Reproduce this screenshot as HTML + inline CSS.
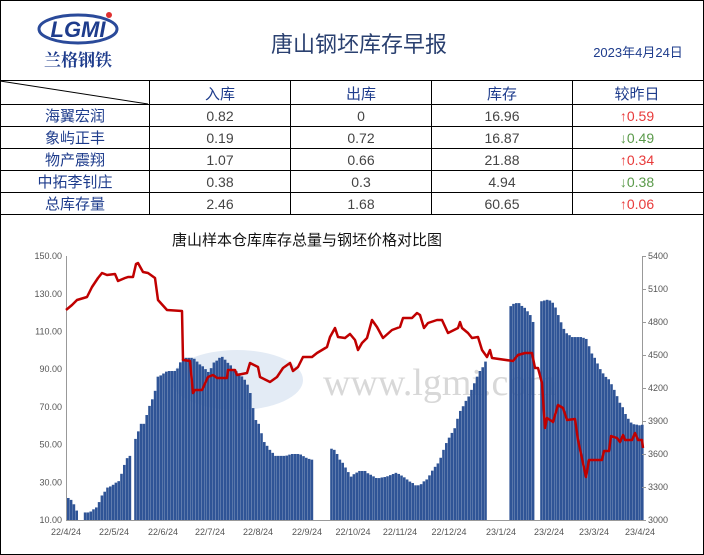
<!DOCTYPE html>
<html><head><meta charset="utf-8"><style>
body{margin:0;width:704px;height:555px;background:#fff;font-family:"Liberation Sans","Noto Sans CJK SC",sans-serif;overflow:hidden}
#w{position:absolute;left:0;top:0;width:702px;height:553px;border:1px solid #000}
</style></head><body>
<div id="w"></div>
<svg width="704" height="555" style="position:absolute;left:0;top:0" id="s">
<ellipse cx="78" cy="29" rx="39" ry="14" fill="none" stroke="#2a4a9a" stroke-width="3"/>
<text x="78" y="37" text-anchor="middle" font-family="Liberation Sans" font-weight="bold" font-style="italic" font-size="22" fill="#1e3c8c">LGMI</text>
<circle cx="109" cy="15" r="3" fill="#e03030"/>
<text x="78" y="66" text-anchor="middle" font-family="Noto Serif CJK SC,serif" font-weight="bold" font-size="17" fill="#1e3c8c">兰格钢铁</text>
<text x="359" y="52" text-anchor="middle" font-family="Noto Sans CJK SC,sans-serif" font-size="22" fill="#2a4070">唐山钢坯库存早报</text>
<text x="638" y="57" text-anchor="middle" font-family="Liberation Sans,Noto Sans CJK SC,sans-serif" font-size="13" fill="#1e3c8c">2023年4月24日</text>
<g stroke="#000" stroke-width="1">
<line x1="0" y1="80.5" x2="704" y2="80.5"/><line x1="0" y1="104.5" x2="704" y2="104.5"/>
<line x1="0" y1="126.5" x2="704" y2="126.5"/><line x1="0" y1="148.5" x2="704" y2="148.5"/>
<line x1="0" y1="170.5" x2="704" y2="170.5"/><line x1="0" y1="192.5" x2="704" y2="192.5"/>
<line x1="0" y1="214.5" x2="704" y2="214.5"/>
<line x1="149.5" y1="80" x2="149.5" y2="214"/><line x1="290.5" y1="80" x2="290.5" y2="214"/>
<line x1="431.5" y1="80" x2="431.5" y2="214"/><line x1="572.5" y1="80" x2="572.5" y2="214"/>
<line x1="0" y1="81" x2="148" y2="104"/>
</g>
<g font-family="Noto Sans CJK SC,sans-serif" font-size="15" text-anchor="middle" fill="#1e3c8c">
<text x="220" y="99">入库</text><text x="361" y="99">出库</text><text x="502" y="99">库存</text><text x="637" y="99">较昨日</text>
<text x="75" y="121">海翼宏润</text><text x="75" y="143">象屿正丰</text><text x="75" y="165">物产震翔</text><text x="75" y="187">中拓李钊庄</text><text x="75" y="209">总库存量</text>
</g>
<g font-family="Liberation Sans,sans-serif" font-size="14" text-anchor="middle" fill="#444">
<text x="220" y="121">0.82</text><text x="361" y="121">0</text><text x="502" y="121">16.96</text>
<text x="220" y="143">0.19</text><text x="361" y="143">0.72</text><text x="502" y="143">16.87</text>
<text x="220" y="165">1.07</text><text x="361" y="165">0.66</text><text x="502" y="165">21.88</text>
<text x="220" y="187">0.38</text><text x="361" y="187">0.3</text><text x="502" y="187">4.94</text>
<text x="220" y="209">2.46</text><text x="361" y="209">1.68</text><text x="502" y="209">60.65</text>
</g>
<g font-family="Liberation Sans,sans-serif" font-size="14" text-anchor="middle">
<text x="637" y="121" fill="#e83a3a">↑0.59</text><text x="637" y="143" fill="#5a9a4a">↓0.49</text>
<text x="637" y="165" fill="#e83a3a">↑0.34</text><text x="637" y="187" fill="#5a9a4a">↓0.38</text>
<text x="637" y="209" fill="#e83a3a">↑0.06</text>
</g>
<text x="307" y="245" text-anchor="middle" font-family="Noto Sans CJK SC,sans-serif" font-size="15" fill="#111">唐山样本仓库库存总量与钢坯价格对比图</text>
<ellipse cx="237" cy="380" rx="66" ry="30" fill="#dce6f2" opacity="0.8"/>
<text x="440" y="395" text-anchor="middle" font-family="Liberation Serif,serif" font-size="38" fill="#d8d8d8">www.lgmi.com</text>
<g stroke="#999" stroke-width="1"><line x1="66.5" y1="256" x2="66.5" y2="520"/><line x1="66" y1="520.5" x2="643" y2="520.5"/><line x1="642.5" y1="256" x2="642.5" y2="520"/></g>
<g id="bars" fill="#2f5496"></g>
<polyline id="ln" fill="none" stroke="#c00000" stroke-width="2.5" stroke-linejoin="round"/>
<g id="ax" font-family="Liberation Sans,sans-serif" font-size="9" fill="#555"></g>
</svg>
<script>
var ns="http://www.w3.org/2000/svg";
var K=[[66,22],[72,20],[75,15],[76,0],[82,0],[83,14],[88,14],[90,15],[96,17],[100,22],[105,27],[110,28],[113,29],[118,31],[122,38],[127,44],[129,44],[130,0],[133,0],[134,53],[140,61],[143,61],[146,68],[150,73],[153,76],[157,86],[163,88],[166,89],[175,89],[178,93],[183,96],[192,96],[198,93],[208,88],[212,93],[220,97],[226,94],[232,90],[240,87],[248,80],[251,72],[254,64],[258,60],[262,52],[268,48],[273,44],[284,44],[290,45],[298,45],[305,43],[310,42],[312,42],[313,0],[328,0],[329,48],[334,47],[339,42],[345,37],[350,33],[357,36],[364,36],[369,34],[376,32],[385,33],[395,35],[402,33],[410,30],[415,28],[420,29],[426,32],[432,37],[437,40],[441,46],[446,52],[452,57],[458,67],[464,72],[470,79],[476,86],[484,94],[485,0],[507,0],[508,123],[513,125],[518,125],[524,122],[530,118],[532,115],[533,0],[539,0],[540,126],[548,127],[553,124],[559,116],[565,109],[571,107],[580,107],[585,106],[592,97],[600,89],[608,84],[614,78],[620,71],[625,65],[631,61],[640,60],[642,61]];
function v(x){for(var i=0;i<K.length-1;i++){if(x>=K[i][0]&&x<=K[i+1][0]){if(K[i][1]==0||K[i+1][1]==0)return (K[i][1]==0&&x==K[i+1][0])?K[i+1][1]:(x==K[i][0]?K[i][1]:0);var t=(x-K[i][0])/(K[i+1][0]-K[i][0]);return K[i][1]+t*(K[i+1][1]-K[i][1]);}}return 0;}
var g=document.getElementById("bars");
for(var x=67;x<642;x+=2.8){var val=v(Math.round(x));if(val<=10)continue;var y=520-(val-10)*1.886;var r=document.createElementNS(ns,"rect");r.setAttribute("x",x);r.setAttribute("y",y);r.setAttribute("width",2.6);r.setAttribute("height",520-y);g.appendChild(r);}
var P="66,310 72,305 77,300 87,297 92,287 98,278 102,273 107,275 115,274 118,281 125,278 128,277 133,277 136,264 138,263 143,272 148,273 155,278 158,300 167,310 182,311 183,360 190,361 193,393 195,390 202,390 208,377 213,375 217,378 227,378 228,370 235,370 237,375 247,373 250,363 258,367 260,377 270,382 277,377 283,368 290,363 293,371 298,367 303,357 312,357 317,353 327,347 330,337 335,328 338,337 345,338 350,334 355,340 358,350 362,343 367,338 372,320 377,327 383,338 392,330 400,327 403,318 412,318 417,313 420,315 424,328 428,323 437,320 442,320 448,333 458,328 460,322 462,328 468,333 472,338 478,337 482,350 487,357 490,350 492,358 513,361 518,355 525,353 532,353 535,368 538,368 542,383 545,428 547,418 553,422 558,405 563,408 567,420 575,419 578,440 586,477 589,460 602,460 604,451 609,451 611,436 617,438 620,442 623,435 625,440 632,440 635,433 638,440 642,440 643,448";
document.getElementById("ln").setAttribute("points",P);
var a=document.getElementById("ax");
function T(x,y,s,anc){var t=document.createElementNS(ns,"text");t.setAttribute("x",x);t.setAttribute("y",y);t.setAttribute("text-anchor",anc);t.textContent=s;a.appendChild(t);}
for(var i=0;i<8;i++){var y=520-i*37.7;T(62,y+3,(10+i*20).toFixed(2),"end");}
for(var i=0;i<9;i++){var yy=520-i*33;T(648,yy+3,3000+i*300,"start");var l=document.createElementNS(ns,"line");l.setAttribute("x1",642);l.setAttribute("x2",646);l.setAttribute("y1",yy+.5);l.setAttribute("y2",yy+.5);l.setAttribute("stroke","#999");a.appendChild(l);}
var L=[[66,"22/4/24"],[114,"22/5/24"],[163,"22/6/24"],[210,"22/7/24"],[258,"22/8/24"],[307,"22/9/24"],[353,"22/10/24"],[400,"22/11/24"],[449,"22/12/24"],[501,"23/1/24"],[549,"23/2/24"],[594,"23/3/24"],[640,"23/4/24"]];
L.forEach(function(p){T(p[0],535,p[1],"middle");});
</script>
</body></html>
